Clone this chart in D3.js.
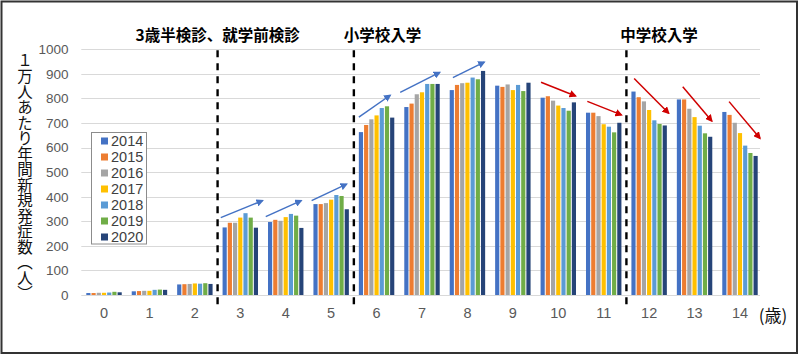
<!DOCTYPE html>
<html><head><meta charset="utf-8">
<script src="https://cdn.jsdelivr.net/npm/d3@7"></script>
<style>
html,body{margin:0;padding:0;background:#fff;}
svg{display:block;}
</style>
</head><body>
<svg id="chart" width="800" height="356"></svg>
<script>
const ages = ["0","1","2","3","4","5","6","7","8","9","10","11","12","13","14"];
const years = ["2014","2015","2016","2017","2018","2019","2020"];
const v2014 = [8,15,43,275,297,370,663,765,834,852,803,742,828,796,745];
const v2015 = [8,16,44,294,306,370,692,779,855,847,809,742,805,796,733];
const v2016 = [9,17,45,294,302,374,715,817,862,857,791,728,788,758,701];
const v2017 = [9,17,47,315,317,388,731,825,864,834,771,695,753,724,659];
const v2018 = [10,21,46,333,330,407,761,859,885,855,761,685,711,689,608];
const v2019 = [13,22,48,315,323,403,768,859,878,830,750,662,696,658,578];
const v2020 = [11,21,45,274,273,349,722,859,912,864,784,701,690,644,566];
const seriesValues = [v2014,v2015,v2016,v2017,v2018,v2019,v2020];
const colors = ["#4472C4","#ED7D31","#A5A5A5","#FFC000","#5B9BD5","#70AD47","#264478"];
const yTicks = [0,100,200,300,400,500,600,700,800,900,1000];
const yLabel = "１万人あたり年間新規発症数（人）";
const xUnit = "(歳)";
// section dividers: placed before these ages
const dividerAges = ["3","6","12"];
const sectionLabels = ["3歳半検診、就学前検診","小学校入学","中学校入学"];
const sectionLabelShift = [0, 0.63, 0.72]; // in category steps from divider
// trend arrows: age, start offset (steps), start value, end offset, end value
const blueArrows = [
  ["3",-0.43,315,0.49,384],["4",-0.44,319,0.34,384],["5",-0.43,384,0.34,451],
  ["6",-0.39,724,0.30,813],["7",-0.48,825,0.39,906],["8",-0.32,885,0.37,948]
];
const redArrows = [
  ["10",-0.38,866,0.38,810],["11",-0.36,788,0.39,733],["12",-0.33,881,0.43,740],
  ["13",-0.26,848,0.38,708],["14",-0.24,787,0.44,638]
];

const svg = d3.select("#chart");
const W = 800, H = 356;
const x = d3.scaleBand().domain(ages).range([81.3,762.7]).paddingInner(0.22).paddingOuter(0.11);
const xs = d3.scaleBand().domain(years).range([0,x.bandwidth()]).paddingInner(0.2);
const y = d3.scaleLinear().domain([0,1000]).range([295,49.3]);
const step = x.step();
const cx = a => x(a) + x.bandwidth()/2;

// outer frame
svg.append("rect").attr("x",1.5).attr("y",1.5).attr("width",W-4.5).attr("height",H-4.5)
  .attr("fill","#fff").attr("stroke","#333").attr("stroke-width",2);

// gridlines
svg.append("g").selectAll("line").data(yTicks).join("line")
  .attr("x1",81.3).attr("x2",760).attr("y1",d=>Math.round(y(d))+0.5).attr("y2",d=>Math.round(y(d))+0.5)
  .attr("stroke","#d9d9d9").attr("stroke-width",1);

// y axis labels
const yAxis = d3.axisLeft(y).tickValues(yTicks).tickFormat(d3.format("d")).tickSize(0).tickPadding(0);
const gy = svg.append("g").attr("transform","translate(68.5,0)").call(yAxis);
gy.select(".domain").remove();
gy.selectAll("text").attr("font-family","Liberation Sans, Arial, sans-serif").attr("font-size",13.5).attr("fill","#595959");

// x axis labels
const xAxis = d3.axisBottom(x).tickSize(0).tickPadding(0);
const gx = svg.append("g").attr("transform","translate(0,308)").call(xAxis);
gx.select(".domain").remove();
gx.selectAll("text").attr("font-family","Liberation Sans, Arial, sans-serif").attr("font-size",14.5).attr("fill","#595959");

svg.append("text").attr("x",773).attr("y",322).attr("text-anchor","middle")
  .attr("font-family","Noto Sans CJK JP, sans-serif").attr("font-size",17).attr("fill","#111").text(xUnit);

// bars
const groups = svg.append("g").selectAll("g").data(ages).join("g").attr("transform",a=>`translate(${x(a)},0)`);
groups.selectAll("rect").data((a,i)=>years.map((yr,j)=>({yr,j,v:seriesValues[j][i]}))).join("rect")
  .attr("x",d=>xs(d.yr)).attr("width",xs.bandwidth())
  .attr("y",d=>y(d.v)).attr("height",d=>y(0)-y(d.v))
  .attr("fill",d=>colors[d.j]);

// dividers
dividerAges.forEach((a,i)=>{
  const dx = cx(a) - step/2;
  svg.append("line").attr("x1",dx).attr("x2",dx).attr("y1",y(1000)+1).attr("y2",y(0)+10)
    .attr("stroke","#000").attr("stroke-width",2.4).attr("stroke-dasharray","7,6");
  svg.append("text").attr("x",dx + sectionLabelShift[i]*step).attr("y",41)
    .attr("text-anchor","middle").attr("font-family","Noto Sans CJK JP, sans-serif")
    .attr("font-weight","bold").attr("font-size",15.5).attr("fill","#000").text(sectionLabels[i]);
});

// arrow markers
const defs = svg.append("defs");
[["blueHead","#4472C4"],["redHead","#D00000"]].forEach(([id,c])=>{
  defs.append("marker").attr("id",id).attr("viewBox","0 0 10 10").attr("refX",8).attr("refY",5)
    .attr("markerWidth",5).attr("markerHeight",5).attr("orient","auto-start-reverse")
    .attr("markerUnits","strokeWidth")
    .append("path").attr("d","M0,0 L10,5 L0,10 z").attr("fill",c);
});
function drawArrows(list,color,marker){
  svg.append("g").selectAll("line").data(list).join("line")
    .attr("x1",d=>cx(d[0])+d[1]*step).attr("y1",d=>y(d[2]))
    .attr("x2",d=>cx(d[0])+d[3]*step).attr("y2",d=>y(d[4]))
    .attr("stroke",color).attr("stroke-width",1.5).attr("marker-end",`url(#${marker})`);
}
drawArrows(blueArrows,"#4472C4","blueHead");
drawArrows(redArrows,"#D00000","redHead");

// y-axis title (vertical)
svg.append("text").attr("x",25).attr("y",177).attr("text-anchor","middle")
  .attr("font-family","Noto Sans CJK JP, sans-serif").attr("font-size",15.5).attr("fill","#111")
  .style("writing-mode","vertical-rl").text(yLabel);

// legend
const lg = svg.append("g");
lg.append("rect").attr("x",91.5).attr("y",132.5).attr("width",55).attr("height",111.5)
  .attr("fill","#fff").attr("stroke","#8c8c8c").attr("stroke-width",1);
const li = lg.selectAll("g").data(years).join("g").attr("transform",(d,i)=>`translate(0,${141+i*16})`);
li.append("rect").attr("x",101).attr("y",-3.5).attr("width",7).attr("height",7).attr("fill",(d,i)=>colors[i]);
li.append("text").attr("x",111).attr("y",0).attr("dy","0.35em")
  .attr("font-family","Liberation Sans, Arial, sans-serif").attr("font-size",14.5).attr("fill","#404040").text(d=>d);
</script>
</body></html>
